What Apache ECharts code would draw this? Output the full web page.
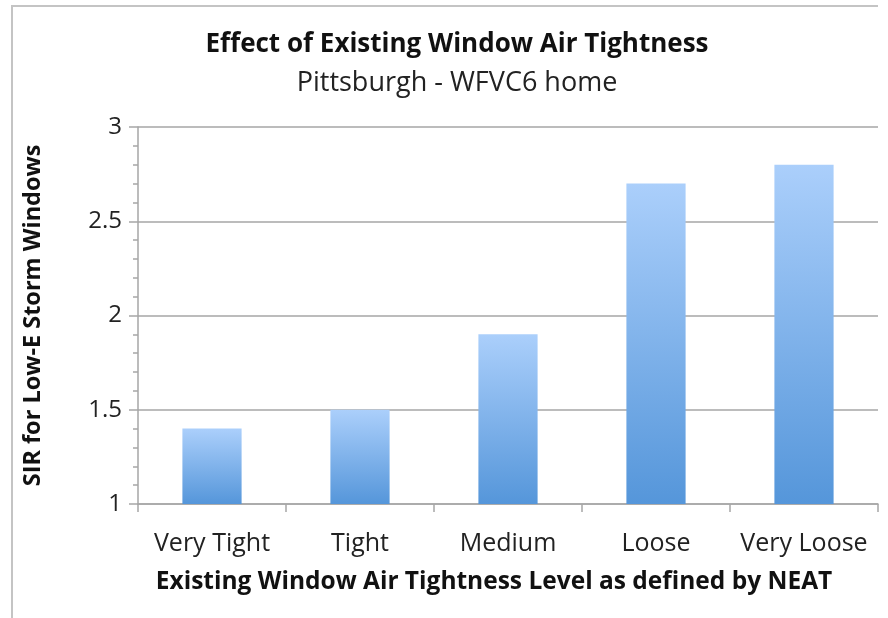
<!DOCTYPE html>
<html>
<head>
<meta charset="utf-8">
<script src="https://cdn.jsdelivr.net/npm/echarts@6/dist/echarts.min.js"></script>
<style>
  html, body { margin: 0; padding: 0; background: #fff; }
  #chart { width: 888px; height: 618px; }
</style>
</head>
<body>
<div id="chart"></div>
<script>
// 数据
var categories = ['Very Tight', 'Tight', 'Medium', 'Loose', 'Very Loose'];
var sirValues = [1.4, 1.5, 1.9, 2.7, 2.8];
var yTicks = [1, 1.5, 2, 2.5, 3];

(function () {
  var myChart = echarts.init(document.getElementById('chart'));
  var font = 'Open Sans';
  var option = {
    animation: false,
    title: {
      text: 'Effect of Existing Window Air Tightness',
      subtext: 'Pittsburgh - WFVC6 home',
      left: 452,
      textAlign: 'center',
      top: 27,
      itemGap: 12,
      textStyle: { fontFamily: font, fontSize: 26, fontWeight: 'bold', color: '#111' },
      subtextStyle: { fontFamily: font, fontSize: 27, color: '#222' }
    },
    // 外框
    graphic: [{
      type: 'polyline',
      shape: { points: [[12, 618], [12, 6], [878, 6]] },
      style: { stroke: '#c4c4c4', lineWidth: 2, fill: null }
    }],
    grid: { left: 138, right: 10, top: 127, bottom: 114 },
    xAxis: {
      type: 'category',
      data: categories,
      name: 'Existing Window Air Tightness Level as defined by NEAT',
      nameLocation: 'middle',
      nameGap: 66,
      nameTextStyle: { fontFamily: font, fontSize: 24.5, fontWeight: 'bold', color: '#111', padding: [0, 28, 0, 0] },
      axisLine: { lineStyle: { color: '#a6a6a6', width: 1.5 } },
      axisTick: { show: true, interval: 0, length: 8, lineStyle: { color: '#a6a6a6', width: 1.5 } },
      axisLabel: { interval: 0, fontFamily: font, fontSize: 25, color: '#222', margin: 27 }
    },
    yAxis: {
      type: 'value',
      min: yTicks[0],
      max: yTicks[yTicks.length - 1],
      interval: 0.5,
      name: 'SIR for Low-E Storm Windows',
      nameLocation: 'middle',
      nameGap: 93,
      nameRotate: 90,
      nameTextStyle: { fontFamily: font, fontSize: 23.5, fontWeight: 'bold', color: '#111' },
      axisLine: { show: true, lineStyle: { color: '#a6a6a6', width: 1.5 } },
      axisTick: { show: true, length: 9, lineStyle: { color: '#a6a6a6', width: 1.5 } },
      minorTick: { show: true, splitNumber: 5, length: 5, lineStyle: { color: '#a6a6a6', width: 1.5 } },
      splitLine: { lineStyle: { color: '#a6a6a6', width: 1.5 } },
      axisLabel: { fontFamily: font, fontSize: 24, color: '#222', margin: 16 }
    },
    series: [{
      type: 'bar',
      data: sirValues,
      barWidth: '40%',
      itemStyle: {
        color: new echarts.graphic.LinearGradient(0, 0, 0, 1, [
          { offset: 0, color: '#abcffb' },
          { offset: 1, color: '#5596da' }
        ])
      }
    }]
  };
  myChart.setOption(option);
})();
</script>
</body>
</html>
